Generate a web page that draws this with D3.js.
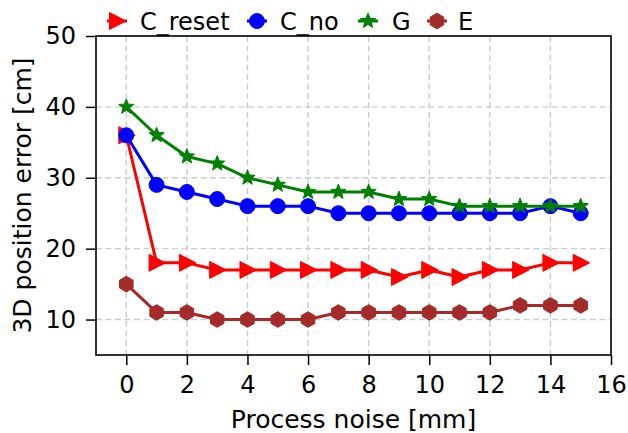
<!DOCTYPE html>
<html>
<head>
<meta charset="utf-8">
<script src="https://cdn.jsdelivr.net/npm/d3@7"></script>
<style>
  html, body { margin: 0; padding: 0; background: #fff; }
  svg { display: block; font-family: "DejaVu Sans", sans-serif; }
</style>
</head>
<body>
<svg id="chart" width="628" height="433"></svg>
<script>
// Process noise levels (mm)
const noise = [0, 1, 2, 3, 4, 5, 6, 7, 8, 9, 10, 11, 12, 13, 14, 15];

// 3D position error (cm) per method
const cReset = [36, 18, 18, 17, 17, 17, 17, 17, 17, 16, 17, 16, 17, 17, 18, 18];
const cNo    = [36, 29, 28, 27, 26, 26, 26, 25, 25, 25, 25, 25, 25, 25, 26, 25];
const gVals  = [40, 36, 33, 32, 30, 29, 28, 28, 28, 27, 27, 26, 26, 26, 26, 26];
const eVals  = [15, 11, 11, 10, 10, 10, 10, 11, 11, 11, 11, 11, 11, 12, 12, 12];

const seriesNames = ["C_reset", "C_no", "G", "E"];
const seriesColors = ["#ff0000", "#0000ff", "#008000", "#a52a2a"];
const seriesShapes = ["triangle", "circle", "star", "hexagon"];

const xTicks = [0, 2, 4, 6, 8, 10, 12, 14, 16];
const yTicks = [10, 20, 30, 40, 50];

const series = [cReset, cNo, gVals, eVals].map((vals, i) => ({
  name: seriesNames[i], color: seriesColors[i], shape: seriesShapes[i],
  points: vals.map((v, j) => ({ x: noise[j], y: v }))
}));

const svg = d3.select("#chart");
const m = { left: 96, right: 611, top: 36, bottom: 355 };

const x = d3.scaleLinear().domain([-1, 16]).range([m.left, m.right]);
const y = d3.scaleLinear().domain([5, 50]).range([m.bottom, m.top]);

// Grid
const grid = svg.append("g");
grid.selectAll("line.gx").data(xTicks.filter(t => t < 16)).join("line")
  .attr("x1", d => x(d)).attr("x2", d => x(d))
  .attr("y1", m.top).attr("y2", m.bottom)
  .attr("stroke", "#cccccc").attr("stroke-width", 1.4).attr("stroke-dasharray", "6,3.5");
grid.selectAll("line.gy").data(yTicks.filter(t => t < 50)).join("line")
  .attr("x1", m.left).attr("x2", m.right)
  .attr("y1", d => y(d)).attr("y2", d => y(d))
  .attr("stroke", "#cccccc").attr("stroke-width", 1.4).attr("stroke-dasharray", "6,3.5");

// Marker paths
function markerPath(shape) {
  if (shape === "triangle") {
    return "M9,0 L-7.5,-8.5 L-7.5,8.5 Z";
  }
  if (shape === "circle") {
    return d3.symbol(d3.symbolCircle, Math.PI * 7.5 * 7.5)();
  }
  if (shape === "star") {
    const pts = [];
    for (let k = 0; k < 10; k++) {
      const r = k % 2 === 0 ? 8 : 3.4;
      const a = -Math.PI / 2 + k * Math.PI / 5;
      pts.push([r * Math.cos(a), r * Math.sin(a)]);
    }
    return "M" + pts.map(p => p.join(",")).join("L") + "Z";
  }
  // hexagon with vertex at top
  const pts = [];
  for (let k = 0; k < 6; k++) {
    const a = -Math.PI / 2 + k * Math.PI / 3;
    pts.push([7.8 * Math.cos(a), 7.8 * Math.sin(a)]);
  }
  return "M" + pts.map(p => p.join(",")).join("L") + "Z";
}

const line = d3.line().x(d => x(d.x)).y(d => y(d.y));

series.forEach(s => {
  const g = svg.append("g");
  g.append("path").attr("d", line(s.points))
    .attr("fill", "none").attr("stroke", s.color).attr("stroke-width", 3)
    .attr("stroke-linejoin", "round");
  g.selectAll("path.mk").data(s.points).join("path")
    .attr("class", "mk")
    .attr("transform", d => `translate(${x(d.x)},${y(d.y)})`)
    .attr("d", markerPath(s.shape))
    .attr("fill", s.color).attr("stroke", s.color).attr("stroke-width", 1);
});

// Axes
const xAxis = d3.axisBottom(x).tickValues(xTicks).tickSize(10).tickPadding(11).tickFormat(d3.format("d"));
const yAxis = d3.axisLeft(y).tickValues(yTicks).tickSize(10).tickPadding(10).tickFormat(d3.format("d"));

const gx = svg.append("g").attr("transform", `translate(0,${m.bottom})`).call(xAxis);
const gy = svg.append("g").attr("transform", `translate(${m.left},0)`).call(yAxis);
[gx, gy].forEach(g => {
  g.select(".domain").remove();
  g.selectAll(".tick line").attr("stroke", "#000").attr("stroke-width", 1.5);
  g.selectAll(".tick text").attr("fill", "#000").attr("font-size", 24)
    .attr("font-family", "DejaVu Sans, sans-serif");
});

// Frame
svg.append("rect").attr("x", m.left).attr("y", m.top)
  .attr("width", m.right - m.left).attr("height", m.bottom - m.top)
  .attr("fill", "none").attr("stroke", "#000").attr("stroke-width", 1.6);

// Axis titles
svg.append("text").attr("x", (m.left + m.right) / 2).attr("y", 427.5)
  .attr("text-anchor", "middle").attr("font-size", 25).text("Process noise [mm]");
svg.append("text").attr("transform", `translate(31,${(m.top + m.bottom) / 2}) rotate(-90)`)
  .attr("text-anchor", "middle").attr("font-size", 25).text("3D position error [cm]");

// Legend
const legendX = [117, 257, 368, 437];
const legendTextX = [140, 280, 392, 458];
const lg = svg.append("g");
series.forEach((s, i) => {
  lg.append("line").attr("x1", legendX[i] - 10).attr("x2", legendX[i] + 10)
    .attr("y1", 21).attr("y2", 21).attr("stroke", s.color).attr("stroke-width", 3);
  lg.append("path").attr("transform", `translate(${legendX[i]},21)`)
    .attr("d", markerPath(s.shape)).attr("fill", s.color).attr("stroke", s.color);
  lg.append("text").attr("x", legendTextX[i]).attr("y", 29.5)
    .attr("font-size", 24).text(s.name);
});
</script>
</body>
</html>
